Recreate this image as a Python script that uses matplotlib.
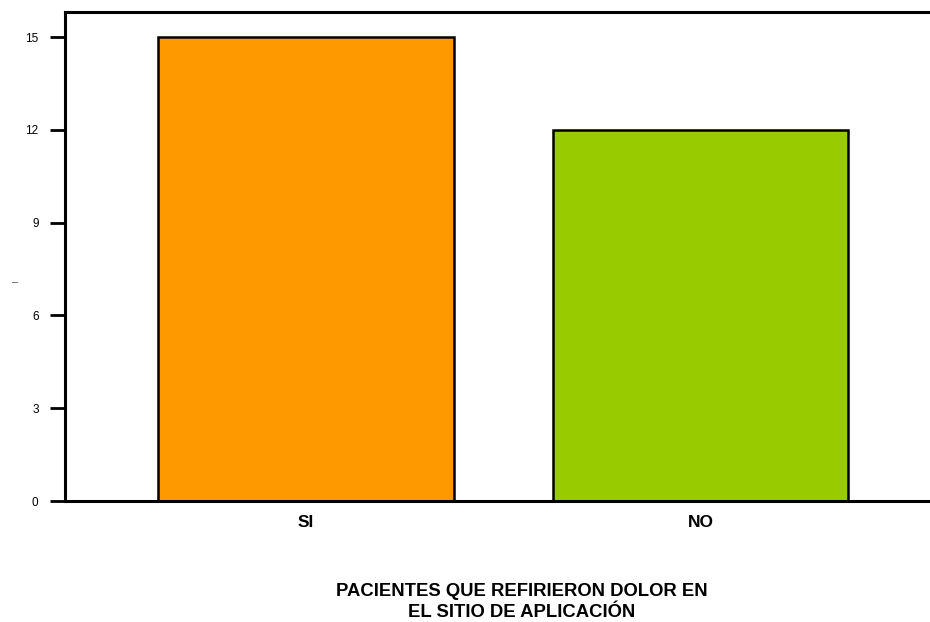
import matplotlib.pyplot as plt

categories = ['SI', 'NO']
values = [15, 12]
colors = ['#FF9900', '#99CC00']
yticks = [0, 3, 6, 9, 12, 15]

plt.rcParams['font.family'] = ['Liberation Sans', 'DejaVu Sans']

fig = plt.figure(figsize=(9.3, 6.22), dpi=100)
ax = fig.add_axes([65 / 930, 1 - 501 / 622, 1 - 65 / 930, (501 - 12) / 622])

x = range(len(categories))
ax.bar(x, values, width=0.75, color=colors, edgecolor='black', linewidth=1.8)

ax.set_xlim(-0.611, 1.582)
ax.set_ylim(0, 15.81)
ax.set_yticks(yticks)
ax.set_yticklabels([str(v) for v in yticks], fontsize=8.5)
ax.set_xticks(list(x))
ax.set_xticklabels(categories, fontsize=12.5, fontweight='bold')

ax.tick_params(axis='y', direction='out', length=11, width=2, pad=8)
ax.tick_params(axis='x', length=0, pad=10)

for side in ['left', 'bottom', 'top']:
    ax.spines[side].set_linewidth(2.2)
ax.spines['right'].set_visible(False)

fig.text(15 / 930, 1 - 282 / 622, '–', fontsize=8, color='#555555', ha='center', va='center')

fig.text(522 / 930, 1 - 602 / 622, 'PACIENTES QUE REFIRIERON DOLOR EN\nEL SITIO DE APLICACIÓN',
         ha='center', va='center', fontsize=13.3, fontweight='bold', linespacing=1.25)

fig.savefig('out.png', dpi=100)
